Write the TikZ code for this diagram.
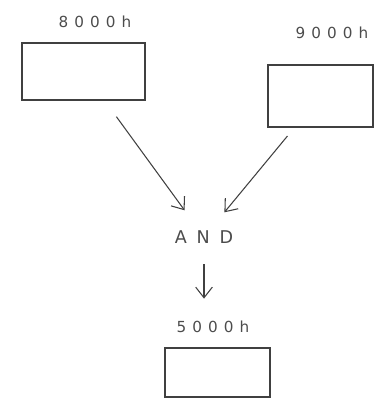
\documentclass[tikz,border=0pt]{standalone}
\usepackage{fontspec}
\newfontfamily\handfont[LetterSpace=40]{DejaVu Sans}
\newfontfamily\gatefont[LetterSpace=56]{DejaVu Sans}
\usetikzlibrary{positioning, arrows.meta}

\begin{document}
\begin{tikzpicture}[x=0.03cm, y=-0.03cm,
    >={Straight Barb[length=3.2mm, width=5mm]},
    box/.style={draw=black!75, line width=0.9pt, inner sep=0pt},
    tag/.style={text=black!70, font=\handfont\fontsize{13}{15}\selectfont},
    stroke/.style={draw=black!75, line width=0.9pt}]
    \useasboundingbox (0,0) rectangle (376,403);
    \node[box, minimum width=3.69cm, minimum height=1.71cm] (disk1)
      at (83.5,71.5) {};
    \node[box, minimum width=3.15cm, minimum height=1.86cm] (disk2)
      at (320.5,96) {};
    \node[box, minimum width=3.15cm, minimum height=1.47cm] (result)
      at (217.5,372.5) {};
    \node[tag] (t1) at (95,22) {8000h};
    \node[tag] (t2) at (332,33) {9000h};
    \node[tag] (t3) at (213,327) {5000h};
    \node[tag, font=\gatefont\fontsize{15}{17}\selectfont] (gate)
      at (204,237) {AND};
    \draw[->, stroke, shorten <=0.6cm, shorten >=0.6cm] (disk1) -- (gate);
    \draw[->, stroke, shorten <=0.33cm, shorten >=0.55cm] (disk2) -- (gate);
    \draw[->, stroke, shorten <=0.5cm, shorten >=0.55cm]
      (gate.south) -- (gate.south |- t3.north);
\end{tikzpicture}
\end{document}
